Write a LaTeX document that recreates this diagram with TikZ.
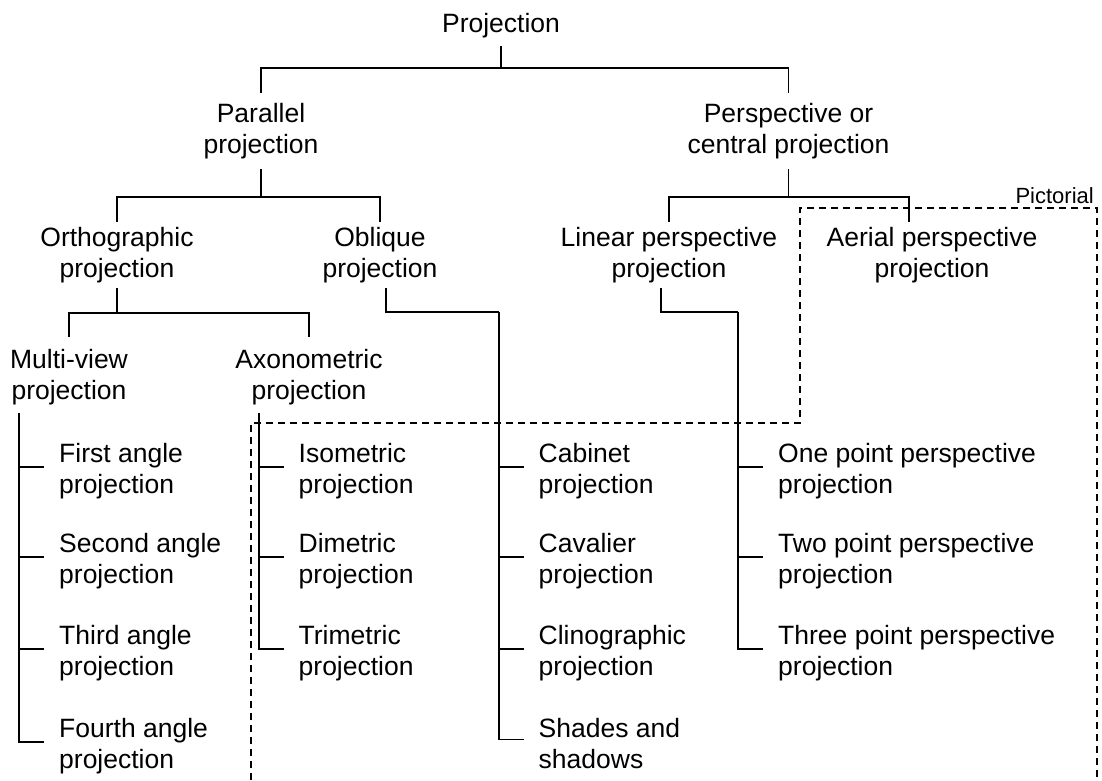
\documentclass[tikz,border=0pt]{standalone}
\usepackage{fontspec}
\setmainfont{Liberation Sans}
\begin{document}
\begin{tikzpicture}[x=1pt,y=-1pt,
  grp/.style={font=\fontsize{26.5}{31}\selectfont, align=center, anchor=north, inner xsep=0pt},
  item/.style={font=\fontsize{26.5}{31}\selectfont, align=left, anchor=north west, inner xsep=15pt, inner ysep=0pt},
  wire/.style={line width=1.7pt},
  pictline/.style={line width=1.6pt, dash pattern=on 7pt off 5pt}]
  \useasboundingbox (0,0) rectangle (1102,780);

  \node[grp, inner ysep=8pt] (proj) at (501,5) {Projection};
  \node[grp, inner ysep=10pt] (par) at (261,93) {Parallel\\projection};
  \node[grp, inner ysep=10pt] (persp) at (788.5,93) {Perspective or\\central projection};
  \node[grp, inner ysep=5pt] (ortho) at (117,222) {Orthographic\\projection};
  \node[grp, inner ysep=5pt] (obl) at (380,222) {Oblique\\projection};
  \node[grp, inner ysep=5pt] (lin) at (669,222) {Linear perspective\\projection};
  \node[grp, inner ysep=5pt] (aer) at (932,222) {Aerial perspective\\projection};
  \node[grp, inner ysep=12pt] (multi) at (69,337) {Multi-view\\projection};
  \node[grp, inner ysep=12pt] (axo) at (309,337) {Axonometric\\projection};

  \node[item] (first) at (44,443) {First angle\\projection};
  \node[item] (second) at (44,533) {Second angle\\projection};
  \node[item] (third) at (44,625) {Third angle\\projection};
  \node[item] (fourth) at (44,718) {Fourth angle\\projection};
  \node[item] (iso) at (283.5,443) {Isometric\\projection};
  \node[item] (dim) at (283.5,533) {Dimetric\\projection};
  \node[item] (tri) at (283.5,625) {Trimetric\\projection};
  \node[item] (cab) at (523.5,443) {Cabinet\\projection};
  \node[item] (cav) at (523.5,533) {Cavalier\\projection};
  \node[item] (clino) at (523.5,625) {Clinographic\\projection};
  \node[item] (shade) at (523.5,718) {Shades and\\shadows};
  \node[item] (onep) at (763,443) {One point perspective\\projection};
  \node[item] (twop) at (763,533) {Two point perspective\\projection};
  \node[item] (threep) at (763,625) {Three point perspective\\projection};

  \node[font=\fontsize{22}{26}\selectfont, anchor=base east, inner sep=0pt] (pictorial) at (1094,203) {Pictorial};

  \coordinate (j0) at (501,68);
  \coordinate (j1) at (261,197);
  \coordinate (j2) at (788.5,197);
  \coordinate (j3) at (117,313);
  \coordinate (j4) at (499,312);
  \coordinate (j5) at (738,312);
  \coordinate (mvtop) at (19,413);
  \coordinate (axtop) at (259,413);

  \draw[wire] (proj.south) -- (j0);
  \draw[wire] (par.north) |- (j0) -| (persp.north);
  \draw[wire] (par.south) -- (j1);
  \draw[wire] (ortho.north) |- (j1) -| (obl.north);
  \draw[wire] (persp.south) -- (j2);
  \draw[wire] (lin.north) |- (j2) -| ([xshift=-23pt]aer.north);
  \draw[wire] (ortho.south) -- (j3);
  \draw[wire] (multi.north) |- (j3) -| (axo.north);
  \draw[wire] ([xshift=6pt]obl.south) |- (j4);
  \draw[wire] ([xshift=-8pt]lin.south) |- (j5);

  \draw[wire] (mvtop) |- ([yshift=4pt]first.west);
  \draw[wire] (mvtop) |- ([yshift=4pt]second.west);
  \draw[wire] (mvtop) |- ([yshift=4pt]third.west);
  \draw[wire] (mvtop) |- ([yshift=4pt]fourth.west);
  \draw[wire] (axtop) |- ([yshift=4pt]iso.west);
  \draw[wire] (axtop) |- ([yshift=4pt]dim.west);
  \draw[wire] (axtop) |- ([yshift=4pt]tri.west);
  \draw[wire] (j4) |- ([yshift=4pt]cab.west);
  \draw[wire] (j4) |- ([yshift=4pt]cav.west);
  \draw[wire] (j4) |- ([yshift=4pt]clino.west);
  \draw[wire] (j4) |- ([yshift=4pt]shade.west);
  \draw[wire] (j5) |- ([yshift=4pt]onep.west);
  \draw[wire] (j5) |- ([yshift=4pt]twop.west);
  \draw[wire] (j5) |- ([yshift=4pt]threep.west);

  \draw[pictline] (251,780) -- (251,423) -- (800,423) -- (800,208) -- (1097,208) -- (1097,780);
\end{tikzpicture}
\end{document}
